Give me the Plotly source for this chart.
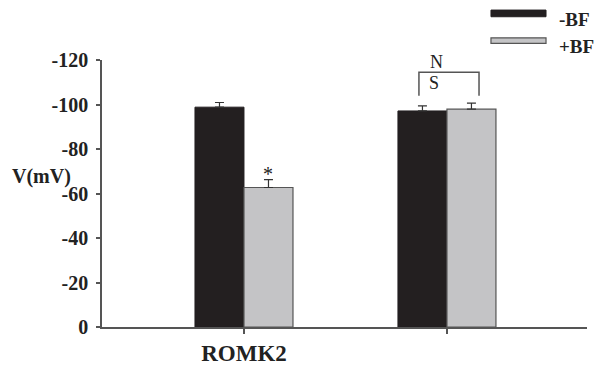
import plotly.graph_objects as go

# ---- data ----
categories = ["ROMK2", ""]
minus_bf = [-98.8, -97.1]
minus_bf_err = [2.1, 2.3]
plus_bf = [-62.7, -97.9]
plus_bf_err = [3.5, 2.7]
y_ticks = [0, -20, -40, -60, -80, -100, -120]
y_tick_labels = ["0", "-20", "-40", "-60", "-80", "-100", "-120"]
series_names = ["-BF", "+BF"]

x_pos = list(range(len(categories)))
SERIF = "Liberation Serif"
AX = "#555555"
BLACK = "#231f20"
GRAY = "#c4c4c6"
TXT = "#222222"
BW = 0.2414

fig = go.Figure()
fig.add_trace(go.Bar(
    x=x_pos, y=minus_bf, name=series_names[0], width=BW, offset=-BW,
    marker=dict(color=BLACK, line=dict(color=BLACK, width=1)),
    error_y=dict(type="data", symmetric=False, array=[0] * len(minus_bf),
                 arrayminus=minus_bf_err, color="#333333", thickness=1.2, width=4.5),
    showlegend=False,
))
fig.add_trace(go.Bar(
    x=x_pos, y=plus_bf, name=series_names[1], width=BW, offset=0,
    marker=dict(color=GRAY, line=dict(color=AX, width=1.2)),
    error_y=dict(type="data", symmetric=False, array=[0] * len(plus_bf),
                 arrayminus=plus_bf_err, color="#333333", thickness=1.2, width=4.5),
    showlegend=False,
))

# page body adds an 8px offset; the figure is sized/margined to compensate
fig.update_layout(
    width=595, height=357,
    margin=dict(l=94, r=16, t=52, b=37.5, autoexpand=False),
    paper_bgcolor="white", plot_bgcolor="white",
    font=dict(family=SERIF, color=TXT),
    barmode="overlay",
    xaxis=dict(
        range=[-0.6995, 1.69], tickvals=x_pos, ticktext=categories,
        showline=True, linecolor=AX, linewidth=1.5,
        ticks="outside", ticklen=5, tickcolor=AX, tickwidth=1.5,
        showgrid=False, zeroline=False, automargin=False,
        tickfont=dict(family=SERIF, size=23, weight="bold", color=TXT),
        ticklabelstandoff=0,
    ),
    yaxis=dict(
        range=[0, -120], tickvals=y_ticks, ticktext=y_tick_labels,
        showline=True, linecolor=AX, linewidth=1.5,
        ticks="outside", ticklen=4, tickcolor=AX, tickwidth=1.5,
        showgrid=False, zeroline=False, automargin=False,
        tickfont=dict(family=SERIF, size=20, weight="bold", color=TXT),
        ticklabelstandoff=4,
    ),
)

# y-axis label
fig.add_annotation(text="V(mV)", xref="paper", yref="paper", x=-0.124, y=0.562,
                   xanchor="center", yanchor="middle",
                   showarrow=False, font=dict(family=SERIF, size=20, weight="bold", color=TXT))

# significance star over +BF bar of group 0
fig.add_annotation(text="*", xref="x", yref="y", x=x_pos[0] + BW / 2,
                   y=plus_bf[0] - plus_bf_err[0] - 2.5, showarrow=False,
                   xanchor="center", yanchor="middle",
                   font=dict(family=SERIF, size=20, color=TXT))

# NS bracket over group 1
bx0, bx1 = x_pos[1] - 0.138, x_pos[1] + 0.158
fig.add_shape(type="path", xref="x", yref="y",
              path=f"M {bx0} -103.9 L {bx0} -114.5 L {bx1} -114.5 L {bx1} -103.9",
              line=dict(color=AX, width=1.5))
fig.add_annotation(text="N", xref="x", yref="y", x=x_pos[1] - 0.05, y=-119.2,
                   xanchor="center", yanchor="middle",
                   showarrow=False, font=dict(family=SERIF, size=18, color=TXT))
fig.add_annotation(text="S", xref="x", yref="y", x=x_pos[1] - 0.064, y=-109.7,
                   xanchor="center", yanchor="middle",
                   showarrow=False, font=dict(family=SERIF, size=18, color=TXT))

# legend drawn manually
fig.add_shape(type="rect", xref="paper", yref="paper", x0=0.802, x1=0.9155, y0=1.162, y1=1.187,
              fillcolor=BLACK, line=dict(color=BLACK, width=1))
fig.add_shape(type="rect", xref="paper", yref="paper", x0=0.802, x1=0.9155, y0=1.062, y1=1.083,
              fillcolor=GRAY, line=dict(color=AX, width=1.2))
fig.add_annotation(text=series_names[0], xref="paper", yref="paper", x=0.938, y=1.152,
                   xanchor="left", yanchor="middle", showarrow=False,
                   font=dict(family=SERIF, size=19, weight="bold", color=TXT))
fig.add_annotation(text=series_names[1], xref="paper", yref="paper", x=0.938, y=1.050,
                   xanchor="left", yanchor="middle", showarrow=False,
                   font=dict(family=SERIF, size=19, weight="bold", color=TXT))

fig.write_html("out.html")
